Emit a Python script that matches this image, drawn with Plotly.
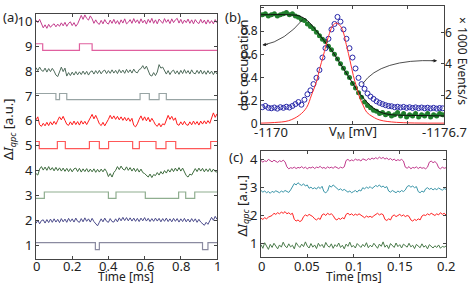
import numpy as np
import plotly.graph_objects as go

W, H = 471, 291

# ---------------- panel (a) data ----------------
a_noisy10 = [10.05, 9.95, 10.08, 9.92,
             9.74, 9.86, 9.72, 9.88, 9.76, 9.85, 9.90, 9.78, 9.89, 9.80, 9.94, 9.82, 9.96, 9.80, 9.92, 9.98, 9.83, 9.95, 9.80, 9.90,
             10.10, 10.24, 10.08, 10.26, 10.12, 10.05, 10.22, 10.10,
             9.92, 10.06, 9.93, 9.88, 10.04, 9.90, 10.07, 9.94, 9.89, 10.05, 9.92, 10.08, 9.91, 10.03, 9.88, 10.06, 9.93, 10.10,
             9.90, 9.96, 10.07, 9.92, 10.11, 9.95, 10.06, 9.91, 10.10, 9.94, 10.05, 9.89, 10.08, 9.95, 10.12, 9.92, 10.06, 9.90,
             10.09, 10.02, 9.92, 10.11, 9.96, 10.07, 9.91, 10.10, 9.95, 10.06, 10.12, 9.93, 10.08, 9.91, 10.05, 9.95, 10.09, 9.92,
             10.06, 9.90, 10.07, 9.96, 9.91, 10.08, 9.93, 10.05, 9.89, 10.06, 9.92, 10.03, 9.90, 10.07, 9.94]
a_noisy8 = [8.14, 8.02, 8.16, 8.03, 7.99, 8.12, 7.96, 8.10, 7.98, 8.11, 8.00,
            7.84, 7.78,
            8.02, 8.16, 7.98, 8.12,
            7.80, 7.94, 7.82, 7.96, 7.84, 7.98, 7.85, 7.97, 7.86, 8.00, 7.87, 7.99, 7.84, 7.97, 8.01, 7.88, 8.02, 7.90, 8.03,
            7.89, 8.00, 8.04, 7.90, 8.02, 7.91, 8.05, 7.92, 8.03, 7.90, 8.06, 7.93, 8.04, 7.91, 8.07, 7.94, 8.05, 7.92, 8.08,
            7.96, 7.93, 8.06,
            8.10, 8.22, 8.08, 8.20, 8.04,
            7.84, 7.80, 7.94, 7.82, 7.96,
            8.26, 8.12, 8.16, 8.02,
            7.88, 8.02, 7.86, 7.99, 8.04, 7.89, 8.01, 7.87, 8.03, 7.90, 8.06, 7.91, 8.02, 7.88, 8.05, 7.92, 7.89, 8.03, 7.90,
            8.04, 7.88, 8.01, 7.87, 8.02, 7.89, 8.00, 7.86, 7.99, 7.88]
a_noisy6 = [6.04, 6.16,
            5.84, 5.78, 5.90, 5.80, 5.94, 5.81, 5.96, 5.84, 5.98, 5.86,
            6.02, 6.16, 6.04, 6.18, 6.02,
            5.86, 5.82, 5.96, 5.84, 5.99, 5.85, 5.97, 5.83, 6.00, 5.87, 5.98, 5.85, 6.01,
            6.12, 6.26, 6.08, 6.22, 6.06,
            5.88, 5.81, 5.94, 5.80, 5.92,
            6.06, 6.22, 6.08, 6.20, 6.06, 6.18, 6.04, 6.16, 6.02, 6.14, 6.00, 6.12, 5.98, 6.10,
            5.82, 5.76, 5.88,
            6.06, 6.20, 6.02, 6.16, 6.00, 6.14, 5.96, 6.10, 5.98,
            5.84, 5.78, 5.90, 5.76, 5.88, 5.84,
            6.08, 6.22, 6.06, 6.18, 6.02, 6.12,
            5.86, 5.82, 5.96, 5.84, 5.98, 5.85, 5.82, 5.96, 5.84, 5.99, 5.86, 5.97, 5.83, 5.99, 5.87, 6.00, 5.88, 6.01, 5.90,
            6.16, 6.32, 6.14, 6.28]
a_noisy4 = [3.88, 3.82, 4.06, 4.16, 4.02,
            4.14, 4.01, 4.16, 4.02, 4.12, 3.99, 4.13, 4.00, 4.11, 3.98, 4.10, 3.97, 4.09, 3.96, 4.08, 3.95, 4.07, 4.10, 3.96,
            4.09, 3.94, 4.07, 3.96, 4.08, 3.94, 4.06, 3.95, 4.07, 3.93, 4.05, 3.94, 4.06, 3.95, 4.07, 3.96,
            3.76, 3.88, 3.74, 3.92,
            4.01, 4.16, 4.04, 4.18, 4.06, 4.02, 4.15, 4.01, 4.12, 3.98, 4.10, 3.96, 4.08, 3.94, 4.06, 3.92, 3.88,
            3.81, 3.74, 3.86, 3.72, 3.84, 3.80, 3.92, 3.82, 3.96, 3.86, 4.00, 3.90, 4.04, 3.94, 4.08, 3.96, 4.10, 3.98,
            4.12, 3.98, 4.10, 3.96,
            3.80, 3.74, 3.86, 3.82, 3.94,
            4.08, 3.96, 4.10, 3.98, 4.09, 3.95, 4.07, 3.96, 4.08, 3.94, 4.06, 3.96, 3.94]
a_noisy2 = [1.88, 2.00, 1.86, 1.99, 2.02, 1.89, 2.03, 1.91, 2.05, 1.92, 2.06, 1.93, 2.04, 1.91, 2.07, 1.94, 2.05, 1.92,
            2.08, 1.95, 2.06, 1.93, 2.09, 1.96, 1.92, 2.07, 1.94, 2.10, 1.96, 2.06, 1.93, 2.08, 1.95,
            1.84, 1.78, 1.92,
            2.06, 1.94, 2.09, 1.96, 1.92, 2.07, 1.95, 1.93, 2.06, 1.94, 2.10, 1.98, 2.12, 1.99, 2.11, 1.98, 2.10, 1.97,
            2.09, 1.96, 2.08, 1.95, 2.09, 1.98, 2.11, 1.97, 2.08, 1.95, 2.07, 1.96, 2.09, 1.97, 2.08, 1.94, 2.07, 1.96,
            2.09, 1.95, 2.06, 1.94, 2.08, 1.96, 2.07, 1.93, 2.06, 1.95, 2.08, 1.94, 2.05, 1.93, 2.07, 1.95, 2.06, 1.92,
            2.04, 1.93,
            1.86, 1.80, 1.92, 1.84,
            1.98, 2.12, 2.00, 2.16, 2.04]

a_step9_t = [0, 0.037, 0.24, 0.31, 1.0]
a_step9_v = [9.1, 8.83, 9.1, 8.83, 8.83]
a_step7_t = [0, 0.11, 0.13, 0.17, 0.575, 0.626, 0.68, 0.72, 1.0]
a_step7_v = [7.1, 6.85, 7.1, 6.85, 7.1, 6.85, 7.1, 6.85, 6.85]
a_step5_t = [0, 0.018, 0.118, 0.162, 0.295, 0.35, 0.401, 0.534, 0.571, 0.663, 0.718, 0.772, 0.965, 1.0]
a_step5_v = [5.17, 4.88, 5.17, 4.88, 5.17, 4.88, 5.17, 4.88, 5.17, 4.88, 5.17, 4.88, 5.17, 5.17]
a_step3_t = [0, 0.046, 0.40, 0.442, 0.604, 0.788, 0.827, 0.877, 1.0]
a_step3_v = [2.88, 3.14, 2.88, 3.14, 2.88, 3.14, 2.88, 3.14, 3.14]
a_step1_t = [0, 0.328, 0.35, 0.92, 0.95, 1.0]
a_step1_v = [1.1, 0.82, 1.1, 0.82, 1.1, 1.1]

a_yticks = [1, 2, 3, 4, 5, 6, 7, 8, 9, 10]
a_xticks = [0, 0.2, 0.4, 0.6, 0.8, 1]
a_xlabels = ["0", "0.2", "0.4", "0.6", "0.8", "1"]

# ---------------- panel (b) data ----------------
b_vm = [-1170.05, -1170.16, -1170.27, -1170.38, -1170.49, -1170.60, -1170.71, -1170.82, -1170.93, -1171.04,
        -1171.15, -1171.26, -1171.37, -1171.48, -1171.59, -1171.70, -1171.81, -1171.92, -1172.03, -1172.14,
        -1172.25, -1172.36, -1172.47, -1172.58, -1172.69, -1172.80, -1172.91, -1173.02, -1173.13, -1173.24,
        -1173.35, -1173.46, -1173.57, -1173.68, -1173.79, -1173.90, -1174.01, -1174.12, -1174.23, -1174.34,
        -1174.45, -1174.56, -1174.67, -1174.78, -1174.89, -1175.00, -1175.11, -1175.22, -1175.33, -1175.44,
        -1175.55, -1175.66, -1175.77, -1175.88, -1175.99, -1176.10, -1176.21, -1176.32, -1176.43, -1176.54,
        -1176.65]
b_occupation = [0.94, 0.95, 0.93, 0.94, 0.95, 0.93, 0.94, 0.95, 0.96, 0.94,
                0.95, 0.93, 0.92, 0.90, 0.89, 0.86, 0.84, 0.82, 0.79, 0.76,
                0.73, 0.71, 0.67, 0.64, 0.60, 0.56, 0.52, 0.48, 0.44, 0.40,
                0.35, 0.31, 0.27, 0.23, 0.19, 0.16, 0.14, 0.12, 0.11, 0.09,
                0.10, 0.08, 0.09, 0.07, 0.08, 0.10, 0.07, 0.09, 0.06, 0.08,
                0.07, 0.09, 0.06, 0.08, 0.07, 0.09, 0.06, 0.08, 0.07, 0.09,
                0.08]
b_events = [1.22, 1.30, 1.18, 1.15, 1.20, 1.13, 1.22, 1.18, 1.25, 1.20,
            1.30, 1.42, 1.55, 1.38, 1.70, 2.05, 2.30, 2.70, 3.10, 3.60,
            4.40, 5.00, 5.60, 6.20, 6.55, 7.00, 6.70, 6.20, 5.60, 5.00,
            4.40, 3.70, 3.10, 2.70, 2.40, 2.10, 1.90, 1.75, 1.60, 1.50,
            1.42, 1.35, 1.30, 1.28, 1.22, 1.25, 1.20, 1.24, 1.18, 1.22,
            1.17, 1.21, 1.16, 1.20, 1.15, 1.19, 1.14, 1.18, 1.13, 1.17,
            1.15]
b_fit_vm = [-1170.0, -1171.0, -1171.4, -1171.7, -1172.0, -1172.3, -1172.6, -1172.9, -1173.2, -1173.5,
            -1173.8, -1174.1, -1174.4, -1174.8, -1175.5, -1176.7]
b_fit_occ = [0.94, 0.94, 0.93, 0.89, 0.81, 0.72, 0.63, 0.52, 0.41, 0.30,
             0.21, 0.14, 0.10, 0.08, 0.075, 0.07]
b_red_vm = [-1170.0, -1170.5, -1171.0, -1171.4, -1171.67, -1171.85, -1172.04, -1172.15, -1172.28, -1172.46,
            -1172.65, -1172.77, -1172.95, -1173.14, -1173.26, -1173.38, -1173.5, -1173.62, -1173.75, -1173.87,
            -1174.1, -1174.35, -1174.96, -1176.7]
b_red_events = [0.2, 0.24, 0.35, 0.7, 1.2, 2.0, 2.9, 3.7, 4.5, 5.7,
                6.5, 6.6, 6.3, 5.1, 4.2, 3.25, 2.5, 1.8, 1.3, 0.9,
                0.6, 0.4, 0.25, 0.2]
b_left_ticks = [0, 0.2, 0.4, 0.6, 0.8, 1]
b_left_labels = ["0", "0.2", "0.4", "0.6", "0.8", "1"]
b_right_ticks = [2, 4, 6]

# ---------------- panel (c) data ----------------
c_noisy4 = [3.98, 3.92, 3.97, 3.94, 4.02, 3.96, 3.93, 3.99, 3.95, 3.91, 3.97, 3.94, 3.99, 3.93,
            3.75, 3.68, 3.72, 3.70, 3.74, 3.69, 3.73, 3.71, 3.76, 3.70, 3.74, 3.68, 3.73, 3.71, 3.75, 3.69,
            3.74, 3.72, 3.77, 3.70, 3.73, 3.69, 3.75, 3.71, 3.74, 3.70, 3.76, 3.72, 3.69, 3.74, 3.71, 3.75,
            3.98, 4.02, 3.96, 4.00, 3.97, 4.03, 3.99, 4.01, 3.96, 4.04, 4.00, 3.98, 4.05, 4.01, 4.07, 4.03,
            4.08, 4.04, 4.10, 4.05, 4.09, 4.03, 4.07, 4.01, 4.05, 3.99, 4.03, 3.97, 4.01, 3.98, 4.02, 3.96,
            3.74, 3.70, 3.76, 3.68, 3.73, 3.71, 3.75, 3.69, 3.74, 3.70, 3.72, 3.68, 3.74,
            3.92, 3.96, 3.90, 3.94, 3.88,
            3.72, 3.68, 3.74, 3.70, 3.72]
c_noisy3 = [2.90, 2.84, 2.88, 2.82, 2.86, 2.80, 2.87, 2.83, 2.89, 2.85, 2.82, 2.88, 2.84, 2.90, 2.86, 2.83, 2.92,
            3.05, 3.15, 3.10, 3.18, 3.12, 3.08, 3.14, 3.06, 3.10,
            2.98, 3.02, 2.96, 3.00, 2.95, 3.03, 2.97, 3.05,
            2.86, 2.82, 2.88,
            3.08, 3.02, 3.10, 3.04, 3.00,
            2.92, 2.96, 2.90, 2.94, 2.88, 2.84, 2.88, 2.82,
            2.86, 2.90, 2.84, 2.92, 2.88,
            3.00, 2.96, 3.02, 2.98, 3.04, 2.97, 3.01,
            3.08, 3.04, 3.10, 3.02, 3.06, 3.00, 3.04,
            2.88, 2.84, 2.90, 2.85, 2.82, 2.88, 2.84, 2.90, 2.86, 2.92,
            3.04, 3.08, 3.02, 3.06, 3.00, 3.04,
            2.86, 2.82, 2.88, 2.84,
            2.96, 3.00, 2.94, 2.98, 2.92, 2.97, 2.93, 2.99, 2.95, 2.91, 2.97, 2.94]
c_noisy2 = [1.90, 1.86, 1.92, 1.88, 1.94, 1.96, 2.00,
            2.08, 2.04, 2.10, 2.06, 2.12, 2.08, 2.14, 2.06, 2.10, 2.04, 2.08,
            1.86, 1.80, 1.84, 1.78, 1.82,
            1.96, 2.02, 1.98, 2.04, 2.00, 1.96,
            1.88, 1.84, 1.90, 1.86,
            2.02, 2.06, 2.00, 2.08, 2.03, 2.06, 2.00,
            1.88, 1.84, 1.90, 1.86, 1.92, 1.88,
            2.04, 2.08, 2.02, 2.06, 2.00, 2.05, 2.01, 2.06, 2.02,
            1.96, 1.92, 1.98, 1.94, 1.97, 1.93, 1.99,
            2.04, 2.08, 2.02, 2.06, 2.03,
            1.86, 1.82, 1.88, 1.84,
            1.98, 2.02, 1.96, 2.00, 2.04, 1.98, 2.02, 1.96, 2.00, 1.97,
            1.84, 1.80, 1.86, 1.82, 1.88, 1.84,
            1.98, 2.02, 2.00, 2.06, 2.02, 2.08, 2.04, 2.00, 2.06, 2.02, 2.10, 2.04, 2.08, 2.02]
c_noisy1 = [0.95, 0.82, 1.02, 0.88, 0.78, 0.96, 0.85, 1.00, 0.90, 0.80, 0.94, 0.86, 1.04, 0.90, 0.84, 0.98, 0.87, 0.93, 0.80, 1.02,
            0.92, 0.85, 0.97, 0.88, 1.05, 0.90, 0.83, 0.99, 0.86, 0.94, 0.81, 1.00, 0.89, 0.96, 0.84, 1.03, 0.91, 0.86, 0.98, 0.82,
            0.95, 0.88, 1.01, 0.85, 0.93, 0.80, 0.97, 0.89, 1.04, 0.87, 0.92, 0.83, 0.99, 0.90, 0.85, 0.96, 0.88, 1.02, 0.84, 0.93,
            0.87, 1.00, 0.91, 0.82, 0.97, 0.89, 1.05, 0.86, 0.94, 0.81, 0.99, 0.92, 0.85, 1.01, 0.88, 0.95, 0.83, 0.97, 0.90, 0.86,
            1.00, 0.87, 0.93, 0.81, 0.96, 0.89, 0.84, 0.98, 0.86, 0.92, 0.80, 0.95, 0.88, 0.83, 0.91, 0.85, 0.94, 0.82, 0.89, 0.86, 0.90]
c_yticks = [1, 2, 3, 4]
c_xticks = [0, 0.05, 0.1, 0.15, 0.2]
c_xlabels = ["0", "0.05", "0.1", "0.15", "0.2"]

FONT = "Noto Sans"
TXT = "#222222"
AX = "#444444"

fig = go.Figure()

def t_axis(vals, tmax):
    return np.linspace(0, tmax, len(vals))

# panel (a)
for vals, col in [(a_noisy10, "#c23b8c"), (a_noisy8, "#4f6b5b"), (a_noisy6, "#ff1a1a"),
                  (a_noisy4, "#3d6b3d"), (a_noisy2, "#4a4a8a")]:
    fig.add_trace(go.Scatter(x=t_axis(vals, 1.0), y=vals, mode="lines",
                             line=dict(color=col, width=1), xaxis="x", yaxis="y", showlegend=False))
for tt, vv, col in [(a_step9_t, a_step9_v, "#e0609f"), (a_step7_t, a_step7_v, "#98a4a4"),
                    (a_step5_t, a_step5_v, "#ff5858"), (a_step3_t, a_step3_v, "#8fae8f"),
                    (a_step1_t, a_step1_v, "#8a8aa0")]:
    fig.add_trace(go.Scatter(x=tt, y=vv, mode="lines", line=dict(color=col, width=1.2, shape="hv"),
                             xaxis="x", yaxis="y", showlegend=False))

# panel (b)
fig.add_trace(go.Scatter(x=b_vm, y=b_events, mode="markers", xaxis="x2", yaxis="y3",
                         marker=dict(symbol="circle-open", size=5, color="#2626a8", line=dict(width=1)),
                         showlegend=False))
fig.add_trace(go.Scatter(x=b_red_vm, y=b_red_events, mode="lines", xaxis="x2", yaxis="y3",
                         line=dict(color="#ff3030", width=1, shape="spline"), showlegend=False))
fig.add_trace(go.Scatter(x=b_vm, y=b_occupation, mode="markers", xaxis="x2", yaxis="y2",
                         marker=dict(symbol="circle", size=5, color="#1f7f2c"), showlegend=False))
fig.add_trace(go.Scatter(x=b_fit_vm, y=b_fit_occ, mode="lines", xaxis="x2", yaxis="y2",
                         line=dict(color="#111111", width=1, shape="spline"), showlegend=False))

# panel (c)
for vals, col in [(c_noisy4, "#c0398c"), (c_noisy3, "#3a95a8"), (c_noisy2, "#ff2020"), (c_noisy1, "#4a7a4a")]:
    fig.add_trace(go.Scatter(x=t_axis(vals, 0.2), y=vals, mode="lines",
                             line=dict(color=col, width=1), xaxis="x3", yaxis="y4", showlegend=False))

def dom_x(p0, p1):
    return [p0 / W, p1 / W]

def dom_y(top, bottom):
    return [1 - bottom / H, 1 - top / H]

common = dict(showline=True, linecolor=AX, linewidth=1, ticks="inside", ticklen=3, tickcolor=AX,
              showgrid=False, zeroline=False)
tf13 = dict(size=13, color=TXT, family=FONT)
tf12 = dict(size=12, color=TXT, family=FONT)

a_top, a_bot = 13, 266
a_lo = 1 - (a_bot - 252) / 25.67
a_hi = 10 + (21 - a_top) / 25.67
b_top, b_bot = 5, 127
c_top, c_bot = 155, 264

fig.update_layout(
    width=W, height=H, margin=dict(l=0, r=0, t=0, b=0),
    paper_bgcolor="white", plot_bgcolor="white",
    font=dict(family=FONT, color=TXT, size=13),
    xaxis=dict(domain=dom_x(36, 217), range=[0, 1], tickvals=a_xticks, showticklabels=False,
               mirror="ticks", anchor="y", **common),
    yaxis=dict(domain=dom_y(a_top, a_bot), range=[a_lo, a_hi], tickvals=a_yticks, tickfont=tf13,
               mirror="ticks", anchor="x", **common),
    xaxis2=dict(domain=dom_x(261, 444), range=[-1170, -1176.7], tickvals=[-1170, -1171.35, -1173.35, -1175.35, -1176.7],
                showticklabels=False, mirror="ticks", anchor="y2", **common),
    yaxis2=dict(domain=dom_y(b_top, b_bot), range=[0, 1.017], tickvals=b_left_ticks, ticktext=b_left_labels,
                tickfont=tf12, mirror=True, anchor="x2", **common),
    yaxis3=dict(range=[0.14, 7.71], tickvals=b_right_ticks, overlaying="y2", side="right", anchor="x2",
                tickfont=tf12, ticks="inside", ticklen=3, tickcolor=AX, showgrid=False, zeroline=False, showline=False),
    xaxis3=dict(domain=dom_x(261, 446), range=[0, 0.2], tickvals=c_xticks, showticklabels=False,
                mirror="ticks", anchor="y4", **common),
    yaxis4=dict(domain=dom_y(c_top, c_bot), range=[1 - (c_bot - 250) / 28.7, 4 + (164 - c_top) / 28.7],
                tickvals=c_yticks, tickfont=tf13, mirror="ticks", anchor="x3", **common),
)

def ann(text, x, y, size=13, angle=0, xanchor="center"):
    fig.add_annotation(text=text, x=x / W, y=1 - y / H, xref="paper", yref="paper", showarrow=False,
                       font=dict(size=size, family=FONT, color=TXT), textangle=angle,
                       xanchor=xanchor, yanchor="middle")

# x tick labels placed just under the axes
for v, lab in zip(a_xticks, a_xlabels):
    fig.add_annotation(text=lab, x=v, xref="x", y=1 - 273 / H, yref="paper", showarrow=False,
                       font=tf13, xanchor="center", yanchor="middle")
for v, lab in zip(c_xticks, c_xlabels):
    fig.add_annotation(text=lab, x=v, xref="x3", y=1 - 273 / H, yref="paper", showarrow=False,
                       font=tf13, xanchor="center", yanchor="middle")

ann("(a)", 10, 17, 13)
ann("(b)", 233, 16, 13)
ann("(c)", 236, 161, 13)
ann("Δ<i>I</i><sub><i>qpc</i></sub> [a.u.]", 9, 133, 13, -90)
ann("Time [ms]", 126, 284, 12)
ann("Time [ms]", 354, 284, 12)
ann("Δ<i>I</i><sub><i>qpc</i></sub> [a.u.]", 243, 212, 13, -90)
ann("dot occupation", 243, 66, 13, -90)
ann("× 1000 Events/s", 463, 62, 12, 90)
ann("-1170", 271, 135, 13)
ann("-1176.7", 469, 135, 13, xanchor="right")
ann("V<sub>M</sub> [mV]", 353, 135, 13)

# curved arrows in panel (b)
fig.add_shape(type="path", xref="x2", yref="y2",
              path="M -1171.54,0.902 Q -1170.88,0.715 -1170.1,0.68",
              line=dict(color="#222222", width=0.8))
fig.add_annotation(x=-1170.05, y=0.68, xref="x2", yref="y2", ax=7, ay=-1, text="", showarrow=True,
                   arrowhead=2, arrowsize=0.9, arrowwidth=0.8, arrowcolor="#222222", standoff=0)
fig.add_shape(type="path", xref="x2", yref="y2",
              path="M -1173.73,0.349 Q -1174.36,0.562 -1176.4,0.545",
              line=dict(color="#222222", width=0.8))
fig.add_annotation(x=-1176.45, y=0.545, xref="x2", yref="y2", ax=-7, ay=0, text="", showarrow=True,
                   arrowhead=2, arrowsize=0.9, arrowwidth=0.8, arrowcolor="#222222", standoff=0)

# the page body gets no default margin so the figure sits at the window's top-left corner
fig.write_html("out.html", config={"displayModeBar": False},
               post_script="document.body.style.margin='0px';")
